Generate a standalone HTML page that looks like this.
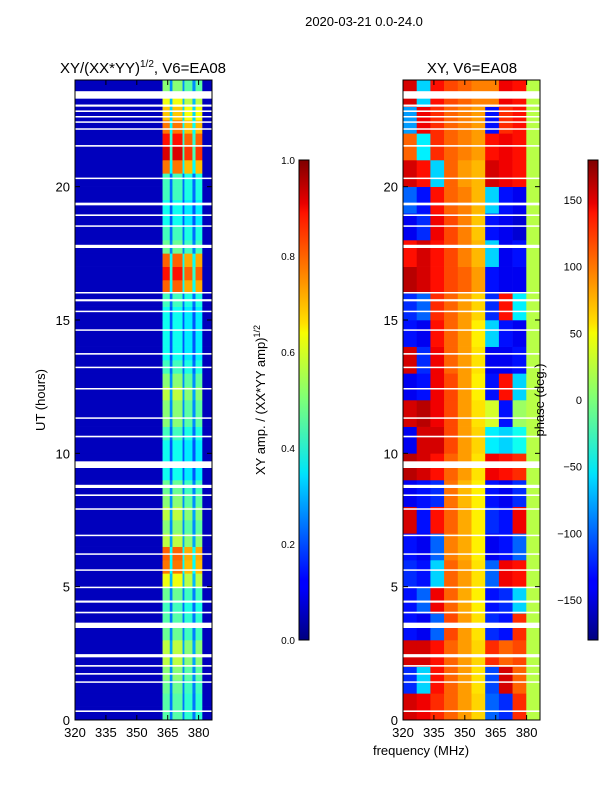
<!DOCTYPE html>
<html><head><meta charset="utf-8"><style>
body{margin:0;background:#fff;}
svg text{font-family:"Liberation Sans",sans-serif;fill:#000;}
</style></head><body>
<svg id="fig" width="600" height="800" xmlns="http://www.w3.org/2000/svg">
<defs>
<linearGradient id="jet" x1="0" y1="1" x2="0" y2="0">
<stop offset="0" stop-color="#00007f"/><stop offset="0.11" stop-color="#0000ff"/><stop offset="0.125" stop-color="#0000ff"/><stop offset="0.34" stop-color="#00dbff"/><stop offset="0.35" stop-color="#00e5f8"/><stop offset="0.5" stop-color="#7cff79"/><stop offset="0.64" stop-color="#f7fd00"/><stop offset="0.66" stop-color="#ffe000"/><stop offset="0.89" stop-color="#ff1300"/><stop offset="0.91" stop-color="#e80000"/><stop offset="1" stop-color="#7f0000"/>
</linearGradient>
</defs>
<text x="364" y="26" text-anchor="middle" font-size="13">2020-03-21 0.0-24.0</text>
<text x="143" y="73" text-anchor="middle" font-size="15">XY/(XX*YY)<tspan font-size="10" dy="-6">1/2</tspan><tspan dy="6">, V6=EA08</tspan></text>
<text x="472" y="73" text-anchor="middle" font-size="15">XY, V6=EA08</text>
<g id="left"></g>
<g id="right"></g>
<g id="axes"></g>
<rect x="299" y="160" width="10" height="480" fill="url(#jet)" stroke="#000" stroke-width="1"/>
<rect x="588" y="160" width="10" height="480" fill="url(#jet)" stroke="#000" stroke-width="1"/>
<text transform="translate(265,400) rotate(-90)" text-anchor="middle" font-size="13">XY amp. / (XX*YY amp)<tspan font-size="9" dy="-5">1/2</tspan></text>
<text transform="translate(544,400) rotate(-90)" text-anchor="middle" font-size="13">phase (deg.)</text>
<text transform="translate(45,400) rotate(-90)" text-anchor="middle" font-size="13">UT (hours)</text>
<text x="421" y="755" text-anchor="middle" font-size="13">frequency (MHz)</text>
</svg>
<script>
const rowIntensity=[0.4,0.4,0.42,0.45,0.5,0.5,0.42,0.4,0.38,0.42,0.55,0.7,0.72,0.5,0.45,0.5,0.45,0.42,0.33,0.33,0.33,0.38,0.45,0.45,0.5,0.45,0.38,0.33,0.33,0.33,0.33,0.38,0.72,0.8,0.72,0.42,0.38,0.33,0.33,0.38,0.38,0.7,0.85,0.8,0.7,0.62,0.55,0.45];
const bandSegments=[[320,362.5,0],[362.5,366,1],[366,367.3,0.45],[367.3,372.2,1],[372.2,373.1,0.45],[373.1,377,0.9],[377,378.5,0.45],[378.5,381.8,0.9],[381.8,386.5,0]];
const phaseRows=[
[150,140,120,100,80,60,-100,-120,120,20],
[-120,-60,130,100,80,55,-110,150,100,20],
[150,150,130,100,80,60,120,100,110,20],
[-130,-140,-100,110,80,55,-120,-130,120,20],
[-130,-100,140,100,75,50,-130,-120,-60,20],
[-120,-130,-60,100,80,55,-100,140,130,20],
[-130,-140,-100,90,75,50,-140,-130,-100,20],
[150,-130,130,100,75,50,-120,-130,140,20],
[-140,-130,-120,95,70,50,-130,-140,-120,20],
[160,150,130,100,80,55,140,130,120,20],
[-140,150,150,110,80,60,-50,-60,-40,20],
[150,160,140,110,80,55,30,-130,10,20],
[-140,-130,140,110,80,50,-130,130,-60,20],
[150,-120,140,100,80,55,-140,-140,-130,20],
[-130,-140,130,100,80,50,-60,-130,-140,20],
[-120,-100,120,100,80,60,-120,130,-50,20],
[160,150,130,110,100,80,-130,-140,-140,20],
[130,150,130,110,90,70,-60,-140,-130,20],
[-140,-120,140,110,90,65,-130,-140,-150,20],
[-100,-130,130,100,90,70,-60,-130,-140,20],
[150,130,-60,100,80,70,150,140,130,20],
[100,-50,120,100,90,80,130,140,130,20],
[-80,140,120,100,90,80,-130,120,130,20],
[150,-60,130,110,100,90,90,140,130,20]];
const gaps=[[23.3,0.28],[23.0,0.08],[22.8,0.06],[22.6,0.05],[22.4,0.05],[22.15,0.04],[21.5,0.06],[20.3,0.04],[19.3,0.1],[18.9,0.06],[18.5,0.05],[17.7,0.12],[16.0,0.05],[15.7,0.08],[15.3,0.05],[14.6,0.05],[13.7,0.06],[13.2,0.05],[12.4,0.05],[11.3,0.05],[10.6,0.06],[9.45,0.25],[8.7,0.12],[8.4,0.06],[7.9,0.04],[6.9,0.05],[6.2,0.05],[5.6,0.05],[4.95,0.05],[4.4,0.08],[4.0,0.06],[3.45,0.2],[2.35,0.12],[2.0,0.06],[1.7,0.06],[1.4,0.05],[0.3,0.06]];
const xTicks=[320,335,350,365,380];
const yTicks=[0,5,10,15,20];
const ampTicks=[0.0,0.2,0.4,0.6,0.8,1.0];
const phaseTicks=[-150,-100,-50,0,50,100,150];

const NS="http://www.w3.org/2000/svg";
const FMIN=320,FMAX=386.5;
function xs(f,x0){return x0+(f-FMIN)*(137/(FMAX-FMIN));}
function ys(t){return 720-t*(640/24);}
function jet(v){v=Math.max(0,Math.min(1,v));
 const r=Math.max(0,Math.min(1,1.5-Math.abs(4*v-3))),g=Math.max(0,Math.min(1,1.5-Math.abs(4*v-2))),b=Math.max(0,Math.min(1,1.5-Math.abs(4*v-1)));
 return `rgb(${Math.round(r*255)},${Math.round(g*255)},${Math.round(b*255)})`;}
function mk(tag,attrs,parent){const e=document.createElementNS(NS,tag);for(const k in attrs)e.setAttribute(k,attrs[k]);parent.appendChild(e);return e;}
const L=document.getElementById('left'),R=document.getElementById('right'),A=document.getElementById('axes');
rowIntensity.forEach((ri,i)=>{const t0=i*0.5,t1=t0+0.5;
 bandSegments.forEach(s=>{const v=0.06+ri*s[2];
  const r=mk('rect',{x:xs(s[0],75),y:ys(t1),width:xs(s[1],75)-xs(s[0],75)+0.3,height:ys(t0)-ys(t1)+0.3,fill:jet(v)},L);
  
  });});
const nc=phaseRows[0].length,fw=(FMAX-FMIN)/nc;
phaseRows.forEach((row,i)=>{row.forEach((p,j)=>{
 const r=mk('rect',{x:xs(FMIN+j*fw,403),y:ys(i+1),width:xs(FMIN+(j+1)*fw,403)-xs(FMIN+j*fw,403)+0.3,height:ys(i)-ys(i+1)+0.3,fill:jet((p+180)/360)},R);
 
 });});
gaps.forEach(g=>{[75,403].forEach(x0=>{
 const r=mk('rect',{x:x0,y:ys(g[0]+g[1]),width:137,height:Math.max(1.5,g[1]*640/24),fill:'#fff'},A);
 
 });});
[75,403].forEach((x0,k)=>{
 const f=mk('rect',{x:x0,y:80,width:137,height:640,fill:'none',stroke:'#000','stroke-width':1},A);
 
 
 xTicks.forEach(v=>{const x=xs(v,x0);
  mk('line',{x1:x,y1:720,x2:x,y2:715,stroke:'#000'},A);mk('line',{x1:x,y1:80,x2:x,y2:85,stroke:'#000'},A);
  const t=mk('text',{x:x,y:737,'text-anchor':'middle','font-size':13},A);t.textContent=v;
  
  });
 yTicks.forEach(v=>{const y=ys(v);
  mk('line',{x1:x0,y1:y,x2:x0+5,y2:y,stroke:'#000'},A);mk('line',{x1:x0+137,y1:y,x2:x0+132,y2:y,stroke:'#000'},A);
  const t=mk('text',{x:x0-5,y:y+5,'text-anchor':'end','font-size':13},A);t.textContent=v;
  
  });});
ampTicks.forEach(v=>{const y=640-v*480;
 mk('line',{x1:299,y1:y,x2:303,y2:y,stroke:'#000'},A);
 const t=mk('text',{x:295,y:y+4,'text-anchor':'end','font-size':10},A);t.textContent=v.toFixed(1);
 
 });
phaseTicks.forEach(v=>{const y=400-v*480/360;
 mk('line',{x1:588,y1:y,x2:592,y2:y,stroke:'#000'},A);
 const t=mk('text',{x:582,y:y+4,'text-anchor':'end','font-size':11},A);t.textContent=v<0?'\u2212'+(-v):v;
 
 });
</script>
</body></html>
